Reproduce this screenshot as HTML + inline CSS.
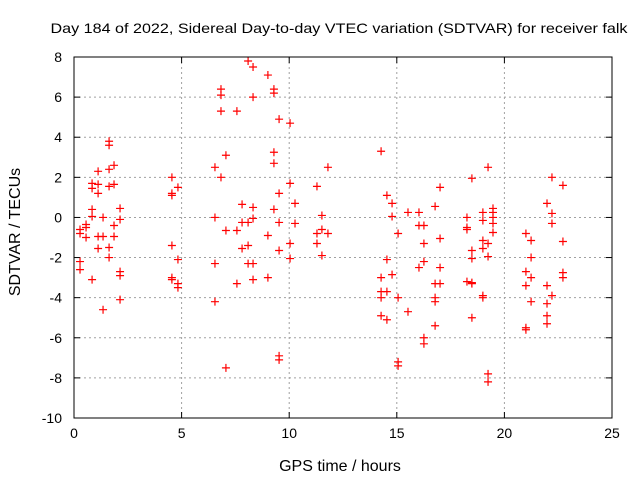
<!DOCTYPE html>
<html><head><meta charset="utf-8"><style>
body{margin:0;background:#fff;}
svg text{font-family:"Liberation Sans",sans-serif;font-size:14px;fill:#000;}
svg text.axt{font-size:16px;}
</style></head><body>
<svg id="chart" width="640" height="480" viewBox="0 0 640 480" xmlns="http://www.w3.org/2000/svg">
<rect width="640" height="480" fill="#fff"/>
<text x="339" y="33" text-anchor="middle" textLength="577" lengthAdjust="spacingAndGlyphs">Day 184 of 2022, Sidereal Day-to-day VTEC variation (SDTVAR) for receiver falk</text>
<text class="axt" x="340" y="471" text-anchor="middle">GPS time / hours</text>
<text class="axt" transform="translate(20,232) rotate(-90)" text-anchor="middle">SDTVAR / TECUs</text>
<g id="grid"></g><g id="ticks"></g><g id="marks"></g>
<rect x="74" y="57" width="538" height="361" fill="none" stroke="#000" stroke-width="1"/>
</svg>
<script>
const xTicks=[0,5,10,15,20,25];
const yTicks=[8,6,4,2,0,-2,-4,-6,-8,-10];
const times=[0.28,0.28,0.28,0.28,0.56,0.56,0.56,0.84,0.84,0.84,0.84,0.84,1.12,1.12,1.12,1.12,1.12,1.35,1.35,1.35,1.63,1.63,1.63,1.63,1.63,1.63,1.86,1.86,1.86,1.86,2.14,2.14,2.14,2.14,2.14,
4.55,4.55,4.55,4.55,4.55,4.55,4.83,4.83,4.83,4.83,
6.55,6.55,6.55,6.55,6.83,6.83,6.83,6.83,7.06,7.06,7.06,7.57,7.57,7.57,7.81,7.81,7.81,8.09,8.09,8.09,8.09,8.32,8.32,8.32,8.32,8.32,8.32,9.01,9.01,9.01,
9.29,9.29,9.29,9.29,9.29,9.53,9.53,9.53,9.53,9.53,9.53,10.04,10.04,10.04,10.04,10.27,10.27,11.29,11.29,11.29,11.52,11.52,11.52,11.80,11.80,
14.27,14.27,14.27,14.27,14.27,14.54,14.54,14.54,14.54,14.78,14.78,14.78,15.06,15.06,15.06,15.06,15.52,15.52,16.03,16.03,16.03,16.26,16.26,16.26,16.26,16.26,16.78,16.78,16.78,16.78,16.78,17.01,17.01,17.01,17.01,
18.26,18.26,18.26,18.26,18.49,18.49,18.49,18.49,18.49,18.49,19.0,19.0,19.0,19.0,19.0,19.0,19.24,19.24,19.24,19.24,19.24,19.47,19.47,19.47,19.47,19.47,
21.0,21.0,21.0,21.0,21.0,21.24,21.24,21.24,21.24,21.98,21.98,21.98,21.98,21.98,22.21,22.21,22.21,22.21,22.72,22.72,22.72,22.72,22.72];
const sdtvar=[-0.6,-0.8,-2.2,-2.6,-0.35,-0.5,-1.0,1.7,1.45,0.4,0.05,-3.1,2.3,1.65,1.2,-0.95,-1.55,0.0,-0.95,-4.6,3.8,3.6,2.4,1.55,-1.5,-2.0,2.6,1.65,-0.4,-0.95,0.45,-0.1,-2.7,-2.9,-4.1,
2.0,1.2,1.1,-1.4,-3.0,-3.1,1.5,-2.1,-3.3,-3.5,
2.5,0.0,-2.3,-4.2,6.4,6.1,5.3,2.0,-0.65,-7.5,3.1,-0.65,-3.3,5.3,-1.55,-0.25,0.65,-0.25,-1.4,-2.3,7.8,7.5,6.0,0.5,-2.3,-3.1,-0.05,-0.9,-3.0,
7.1,6.4,6.2,3.25,0.4,2.7,1.2,-0.25,-1.65,-6.9,-7.1,4.9,4.7,-1.3,-2.05,1.7,0.7,-0.3,-0.8,-1.3,1.55,-0.6,-1.9,0.1,-0.8,
2.5,-3.0,-3.7,-4.0,-4.9,3.3,-2.1,-3.7,-5.1,1.1,0.7,0.05,-2.85,-4.0,-7.2,-7.4,-0.8,-4.7,0.25,-0.4,-2.5,0.25,-1.3,-2.2,-6.0,-6.3,-0.4,-3.3,-4.0,-4.2,-5.4,0.55,-1.05,-2.5,-3.3,
1.5,0.0,-0.6,-3.2,-0.5,-1.65,-2.05,-3.3,-5.0,-3.25,1.95,-0.15,-1.15,-1.55,-4.0,-3.9,0.25,-1.3,-1.95,-7.8,-8.2,2.5,0.45,0.25,0.0,-0.3,
-0.75,-2.7,-3.4,-5.5,-5.6,-0.8,-1.15,-2.0,-4.2,-3.0,-3.4,-4.3,-4.9,-5.3,0.7,0.2,-0.3,-3.9,2.0,1.6,-1.2,-2.75,-3.0];
const L=74,R=612,T=57,B=418;
const xScale=v=>L+(v-0)/25*(R-L);
const yScale=v=>B-(v+10)/18*(B-T);
const NS='http://www.w3.org/2000/svg';
const grid=document.getElementById('grid'),ticks=document.getElementById('ticks'),marks=document.getElementById('marks');
function mk(tag,attrs,parent){const e=document.createElementNS(NS,tag);for(const k in attrs)e.setAttribute(k,attrs[k]);parent.appendChild(e);return e;}
xTicks.forEach(t=>{const x=xScale(t);
 if(t>0&&t<25){const g=mk('line',{x1:x,x2:x,y1:T,y2:B,stroke:'#a0a0a0','stroke-dasharray':'2,3'},grid);
 
 }
 mk('line',{x1:x,x2:x,y1:B,y2:B-6,stroke:'#000'},ticks);mk('line',{x1:x,x2:x,y1:T,y2:T+6,stroke:'#000'},ticks);
 const tx=mk('text',{x:x,y:B+20,'text-anchor':'middle'},ticks);tx.textContent=t;
 
 });
yTicks.forEach(t=>{const y=yScale(t);
 if(t>-10&&t<8){const g=mk('line',{x1:L,x2:R,y1:y,y2:y,stroke:'#a0a0a0','stroke-dasharray':'2,3'},grid);
 
 }
 mk('line',{x1:L,x2:L+6,y1:y,y2:y,stroke:'#000'},ticks);mk('line',{x1:R,x2:R-6,y1:y,y2:y,stroke:'#000'},ticks);
 const tx=mk('text',{x:L-12,y:y+5,'text-anchor':'end'},ticks);tx.textContent=t;
 
 });
times.forEach((t,i)=>{const x=xScale(t),y=yScale(sdtvar[i]);
 const p=mk('path',{d:`M${x-4},${y}H${x+4}M${x},${y-4}V${y+4}`,stroke:'#ff0000','stroke-width':1.2,fill:'none'},marks);
 
 });
</script>
</body></html>
